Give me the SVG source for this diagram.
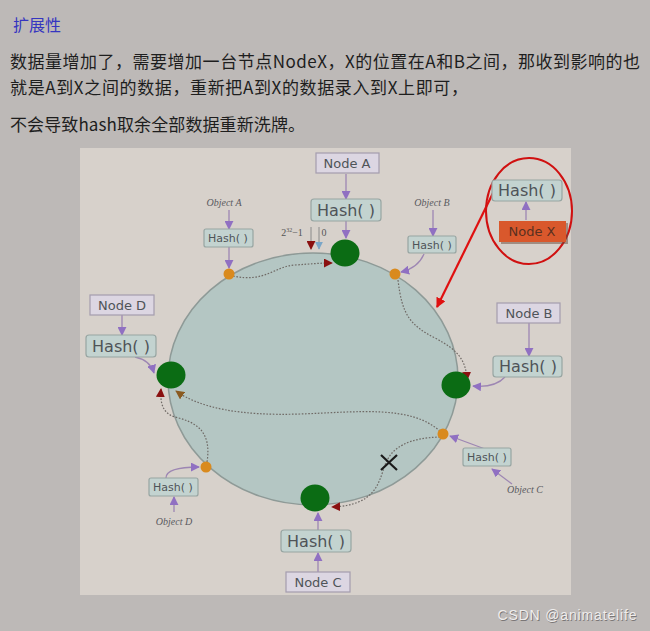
<svg xmlns="http://www.w3.org/2000/svg" width="650" height="631" viewBox="0 0 650 631">
<defs>
<style>
.cn{font-family:"Noto Sans CJK SC","Noto Sans",sans-serif;font-size:17px;fill:#1e1e1e}
.box{fill:#dcd6e2;stroke:#a49cae;stroke-width:1.2}
.hash{fill:#c3d3d0;stroke:#97a5a2;stroke-width:1.2}
.lbl{font-family:"DejaVu Sans","Liberation Sans",sans-serif;fill:#4f5458;text-anchor:middle}
.obj{font-family:"Liberation Serif",serif;font-style:italic;font-size:10px;fill:#5a5a60;text-anchor:middle}
.pl{fill:none;stroke:#9d86b3;stroke-width:1.3}
.dot{fill:none;stroke:#6f6a66;stroke-width:1.2;stroke-dasharray:1.6 1.6}
.node{fill:#0b6c14}
.odot{fill:#d98a1e}
.wm{font-family:"Liberation Sans",Arial,sans-serif;font-size:14px;text-anchor:middle}
</style>
<marker id="pa" viewBox="0 0 10 10" refX="9" refY="5" markerWidth="9" markerHeight="9" markerUnits="userSpaceOnUse" orient="auto"><path d="M0,0 L10,5 L0,10 z" fill="#9070c2"/></marker>
<marker id="ra" viewBox="0 0 10 10" refX="9" refY="5" markerWidth="9" markerHeight="9" markerUnits="userSpaceOnUse" orient="auto"><path d="M0,0 L10,5 L0,10 z" fill="#8a1010"/></marker>
<marker id="ba" viewBox="0 0 10 10" refX="9" refY="5" markerWidth="8" markerHeight="8" markerUnits="userSpaceOnUse" orient="auto"><path d="M0,0 L10,5 L0,10 z" fill="#7aa6c8"/></marker>
<marker id="oa" viewBox="0 0 10 10" refX="9" refY="5" markerWidth="9" markerHeight="9" markerUnits="userSpaceOnUse" orient="auto"><path d="M0,0 L10,5 L0,10 z" fill="#8a5a20"/></marker>
<marker id="xa" viewBox="0 0 10 10" refX="9" refY="5" markerWidth="10" markerHeight="10" markerUnits="userSpaceOnUse" orient="auto"><path d="M0,0 L10,5 L0,10 z" fill="#e01010"/></marker>
</defs>
<rect width="650" height="631" fill="#bdb9b7"/>
<text x="13" y="31" font-family="Noto Sans CJK SC, sans-serif" font-size="16" fill="#3535c0">扩展性</text>
<text class="cn" x="10" y="68" textLength="630">数据量增加了，需要增加一台节点NodeX，X的位置在A和B之间，那收到影响的也</text>
<text class="cn" x="10" y="94" textLength="458">就是A到X之间的数据，重新把A到X的数据录入到X上即可，</text>
<text class="cn" x="10" y="131" textLength="295">不会导致hash取余全部数据重新洗牌。</text>
<rect x="80" y="148" width="491" height="447" fill="#d7d1cb"/>
<ellipse cx="313" cy="379" rx="145" ry="126" fill="#b4c6c3" stroke="#8e9a97" stroke-width="1.5"/>
<g id="connectors">
<path class="pl" d="M346,174 V199" marker-end="url(#pa)"/>
<path class="pl" d="M346,221 V238" marker-end="url(#pa)"/>
<path class="pl" d="M229,210 V229" marker-end="url(#pa)"/>
<path class="pl" d="M229,247 V268" marker-end="url(#pa)"/>
<path class="pl" d="M433,210 V236" marker-end="url(#pa)"/>
<path class="pl" d="M424,254 Q418,268 401,272" marker-end="url(#pa)"/>
<path class="pl" d="M526,220 V202" marker-end="url(#pa)"/>
<path class="pl" d="M529,323 V356" marker-end="url(#pa)"/>
<path class="pl" d="M505,377 Q495,388 473,386" marker-end="url(#pa)"/>
<path class="pl" d="M122,315 V335" marker-end="url(#pa)"/>
<path class="pl" d="M135,357 Q150,360 154,373" marker-end="url(#pa)"/>
<path class="pl" d="M512,484 L492,469" marker-end="url(#pa)"/>
<path class="pl" d="M485,449 L450,436" marker-end="url(#pa)"/>
<path class="pl" d="M174,512 V497" marker-end="url(#pa)"/>
<path class="pl" d="M166,478 Q166,467 199,467" marker-end="url(#pa)"/>
<path class="pl" d="M318,572 V553" marker-end="url(#pa)"/>
<path class="pl" d="M318,530 V513" marker-end="url(#pa)"/>
<path d="M311,227 V249" stroke="#8a8a8a" stroke-width="1" marker-end="url(#ra)"/>
<path d="M319,227 V249" stroke="#8a8a8a" stroke-width="1" marker-end="url(#ba)"/>
<path class="dot" d="M233,276 C265,283 275,266 295,265 C310,264 320,263 332,263" marker-end="url(#ra)"/>
<path class="dot" d="M398,280 C402,315 410,325 435,338 C458,350 466,360 467,380" marker-end="url(#ra)"/>
<path class="dot" d="M440,431 C410,405 360,412 300,414 C240,416 200,408 176,391" marker-end="url(#oa)"/>
<path class="dot" d="M207,462 C212,430 195,422 175,417 C162,413 160,402 161,389" marker-end="url(#ra)"/>
<path class="dot" d="M440,437 C410,438 392,446 385,465 C378,485 375,505 332,507" marker-end="url(#ra)"/>
<path d="M493,193 L437,307" stroke="#e01010" stroke-width="2.2" fill="none" marker-end="url(#xa)"/>
</g>
<ellipse cx="529" cy="211" rx="43" ry="53" fill="none" stroke="#d01010" stroke-width="2"/>
<path d="M381,455 L397,470 M397,455 L381,470" stroke="#1a1a1a" stroke-width="2.2"/>
<text x="292" y="236" font-family="Liberation Serif,serif" font-size="10" fill="#555" text-anchor="middle">2<tspan font-size="6" dy="-4">32</tspan><tspan dy="4">−1</tspan></text>
<text x="324" y="236" font-family="Liberation Serif,serif" font-size="10" fill="#555" text-anchor="middle">0</text>
<g id="nodeA">
<rect class="box" x="316" y="153" width="63" height="20"/>
<text class="lbl" x="347" y="168" font-size="13">Node A</text>
<rect class="hash" x="311" y="199" width="70" height="22" rx="3"/>
<text class="lbl" x="346" y="216" font-size="16">Hash( )</text>
<ellipse class="node" cx="345" cy="253" rx="14.5" ry="13.5"/>
</g>
<g id="nodeB">
<rect class="box" x="497" y="303" width="63" height="20"/>
<text class="lbl" x="529" y="318" font-size="13">Node B</text>
<rect class="hash" x="493" y="356" width="69" height="21" rx="3"/>
<text class="lbl" x="528" y="372" font-size="16">Hash( )</text>
<ellipse class="node" cx="456" cy="385" rx="14.5" ry="13.5"/>
</g>
<g id="nodeC">
<rect class="box" x="286" y="572" width="64" height="20"/>
<text class="lbl" x="318" y="587" font-size="13">Node C</text>
<rect class="hash" x="281" y="530" width="70" height="22" rx="3"/>
<text class="lbl" x="316" y="547" font-size="16">Hash( )</text>
<ellipse class="node" cx="315" cy="498" rx="14.5" ry="13.5"/>
</g>
<g id="nodeD">
<rect class="box" x="90" y="295" width="64" height="20"/>
<text class="lbl" x="122" y="310" font-size="13">Node D</text>
<rect class="hash" x="86" y="335" width="70" height="22" rx="3"/>
<text class="lbl" x="121" y="352" font-size="16">Hash( )</text>
<ellipse class="node" cx="171" cy="375" rx="14.5" ry="13.5"/>
</g>
<g id="nodeX">
<rect class="hash" x="492" y="180" width="70" height="21" rx="3"/>
<text class="lbl" x="527" y="196" font-size="16">Hash( )</text>
<rect x="501" y="223" width="67" height="21" fill="#6a4a3a" opacity="0.5"/>
<rect x="499" y="221" width="67" height="21" fill="#d9582c"/>
<text class="lbl" x="532" y="236" font-size="13" style="fill:#5a3020">Node X</text>
</g>
<g id="objectA">
<text class="obj" x="224" y="206">Object A</text>
<rect class="hash" x="204" y="229" width="49" height="18" rx="2"/>
<text class="lbl" x="228" y="242" font-size="11">Hash( )</text>
<circle class="odot" cx="229" cy="274" r="5.5"/>
</g>
<g id="objectB">
<text class="obj" x="432" y="206">Object B</text>
<rect class="hash" x="408" y="236" width="48" height="17" rx="2"/>
<text class="lbl" x="432" y="249" font-size="11">Hash( )</text>
<circle class="odot" cx="395" cy="274" r="5.5"/>
</g>
<g id="objectC">
<text class="obj" x="525" y="493">Object C</text>
<rect class="hash" x="463" y="448" width="48" height="18" rx="2"/>
<text class="lbl" x="487" y="461" font-size="11">Hash( )</text>
<circle class="odot" cx="443" cy="434" r="5.5"/>
</g>
<g id="objectD">
<text class="obj" x="174" y="525">Object D</text>
<rect class="hash" x="149" y="478" width="49" height="18" rx="2"/>
<text class="lbl" x="173" y="491" font-size="11">Hash( )</text>
<circle class="odot" cx="206" cy="467" r="5.5"/>
</g>
<text class="wm" x="567" y="620" fill="#7a7676" dx="0.8" dy="0.8" textLength="139">CSDN @animatelife</text>
<text class="wm" x="567" y="620" fill="#efeded" textLength="139">CSDN @animatelife</text>
</svg>
